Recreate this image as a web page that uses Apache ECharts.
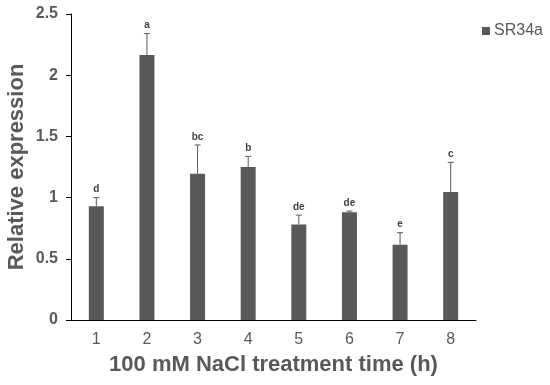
<!DOCTYPE html>
<html><head><meta charset="utf-8">
<script src="https://cdn.jsdelivr.net/npm/echarts@6/dist/echarts.min.js"></script>
<style>html,body{margin:0;padding:0;background:#fff}#c{width:550px;height:385px}</style>
</head><body><div id="c"></div>
<script>
var categories = ['1','2','3','4','5','6','7','8'];
var values = [0.93, 2.165, 1.195, 1.25, 0.78, 0.88, 0.615, 1.045];
var errors = [0.07, 0.175, 0.235, 0.087, 0.077, 0.01, 0.098, 0.243];
var letters = ['d','a','bc','b','de','de','e','c'];
var yTicks = [0, 0.5, 1, 1.5, 2, 2.5];

var FONT = '"Liberation Sans", Arial, sans-serif';
var GREY = '#595959';
var chart = echarts.init(document.getElementById('c'));
var errData = categories.map(function(c,i){return [i, values[i], errors[i], letters[i]];});
chart.setOption({
  animation:false,
  textStyle:{fontFamily:FONT},
  grid:{left:71,right:74,top:14,bottom:65,containLabel:false,outerBoundsMode:'none'},
  legend:{
    show:true, data:['SR34a'], left:477, top:18, itemWidth:8, itemHeight:8, itemGap:4,
    icon:'rect',
    textStyle:{fontSize:16,color:GREY,fontFamily:FONT, padding:[0,0,0,-1]}
  },
  xAxis:{
    type:'category', data:categories,
    axisLine:{lineStyle:{color:'#000',width:1}},
    axisTick:{show:false},
    axisLabel:{fontSize:16,color:GREY,margin:12,fontFamily:FONT},
    name:'100 mM NaCl treatment time (h)', nameLocation:'middle', nameGap:34,
    nameMoveOverlap:false,
    nameTextStyle:{fontSize:22,fontWeight:'bold',color:GREY,fontFamily:FONT}
  },
  yAxis:{
    type:'value', min:0, max:2.5, interval:0.5,
    axisLine:{show:true,lineStyle:{color:'#000',width:1}},
    axisTick:{show:true,length:5,lineStyle:{color:'#000'}},
    splitLine:{show:false},
    axisLabel:{fontSize:16,fontWeight:'bold',color:GREY,margin:13,fontFamily:FONT},
    name:'Relative expression', nameLocation:'middle', nameGap:43,
    nameMoveOverlap:false,
    nameTextStyle:{fontSize:22,fontWeight:'bold',color:GREY,fontFamily:FONT}
  },
  series:[
    {name:'SR34a', type:'bar', data:values, barWidth:15, itemStyle:{color:GREY}},
    {type:'custom', name:'err', data:errData, z:5,
     renderItem:function(params, api){
       var x = api.value(0), v = api.value(1), e = api.value(2);
       var lbl = letters[params.dataIndex];
       var p0 = api.coord([x, v]);
       var p1 = api.coord([x, v+e]);
       return {type:'group', children:[
         {type:'line', shape:{x1:p0[0],y1:p0[1],x2:p1[0],y2:p1[1]}, style:{stroke:GREY,lineWidth:1}},
         {type:'line', shape:{x1:p1[0]-3,y1:p1[1],x2:p1[0]+3,y2:p1[1]}, style:{stroke:GREY,lineWidth:1}},
         {type:'text', style:{text:lbl, x:p1[0], y:p1[1]-3, align:'center', verticalAlign:'bottom',
           fontSize:10, fontWeight:'bold', fill:'#404040', fontFamily:FONT}}
       ]};
     }
    }
  ]
});
</script></body></html>
